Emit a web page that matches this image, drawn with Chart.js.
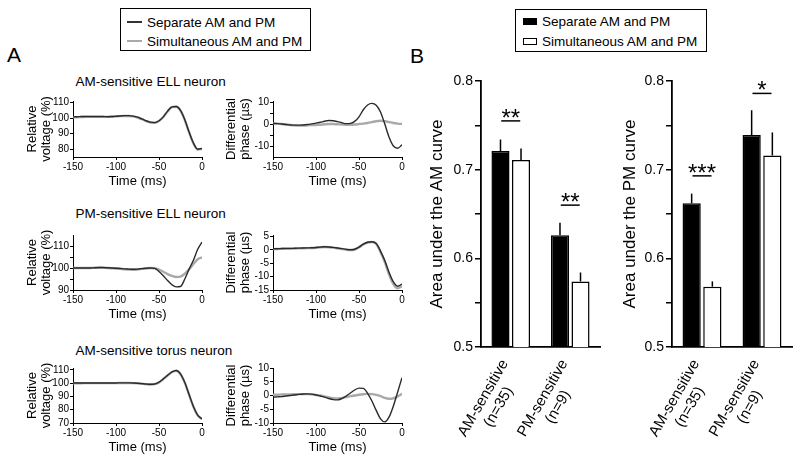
<!DOCTYPE html>
<html>
<head>
<meta charset="utf-8">
<script src="https://cdn.jsdelivr.net/npm/chart.js@4"></script>
<style>
  body { margin: 0; background: #fff; width: 800px; height: 462px; position: relative; overflow: hidden;
         font-family: "Liberation Sans", Arial, sans-serif; color: #000; }
  canvas { position: absolute; }
  .t { position: absolute; white-space: nowrap; line-height: 1; }
  .box { position: absolute; border: 1.5px solid #000; box-sizing: border-box; }
  .swatch { position: absolute; }
</style>
</head>
<body>

<div class="t" style="left:7px;top:44px;font-size:21px">A</div>
<div class="t" style="left:410px;top:45px;font-size:21px">B</div>

<div class="box" style="left:120px;top:8px;width:191px;height:43px"></div>
<div class="swatch" style="left:127px;top:21px;width:15px;height:2px;background:#333"></div>
<div class="swatch" style="left:127px;top:40px;width:15px;height:2px;background:#aaa"></div>
<div class="t" style="left:147px;top:15.5px;font-size:13.5px">Separate AM and PM</div>
<div class="t" style="left:147px;top:34.5px;font-size:13.5px">Simultaneous AM and PM</div>

<div class="box" style="left:515px;top:9px;width:192px;height:43px"></div>
<div class="swatch" style="left:523px;top:18px;width:14px;height:7px;background:#000"></div>
<div class="swatch" style="left:523px;top:38px;width:14px;height:7px;border:1.3px solid #000;box-sizing:border-box;background:#fff"></div>
<div class="t" style="left:542px;top:15px;font-size:13.5px">Separate AM and PM</div>
<div class="t" style="left:542px;top:34.5px;font-size:13.5px">Simultaneous AM and PM</div>

<div class="t" style="left:75.5px;top:74.5px;font-size:13.5px">AM-sensitive ELL neuron</div>
<div class="t" style="left:75.5px;top:207px;font-size:13.5px">PM-sensitive ELL neuron</div>
<div class="t" style="left:75.5px;top:343.5px;font-size:13.5px">AM-sensitive torus neuron</div>

<canvas id="c11" width="195" height="98" style="left:15px;top:93px"></canvas>
<canvas id="c12" width="195" height="98" style="left:215px;top:93px"></canvas>
<canvas id="c21" width="195" height="97" style="left:15px;top:227px"></canvas>
<canvas id="c22" width="195" height="97" style="left:215px;top:227px"></canvas>
<canvas id="c31" width="195" height="97" style="left:15px;top:360px"></canvas>
<canvas id="c32" width="195" height="97" style="left:215px;top:360px"></canvas>

<canvas id="b1" width="184" height="387" style="left:420px;top:60px"></canvas>
<canvas id="b2" width="183" height="387" style="left:613px;top:60px"></canvas>

<script>
// time axis of the traces (ms)
const times = [-150, -145, -140, -135, -130, -125, -120, -115, -110, -105, -100, -95, -90, -85, -80, -75,
               -70, -65, -60, -55, -50, -45, -40, -35, -30, -25, -20, -15, -10, -5, 0];
const timeTicks = [-150, -100, -50, 0];

// AM-sensitive ELL neuron
const amEllVoltSep = [100.8, 100.9, 101, 101, 101, 101, 101, 101, 100.9, 101, 101.2, 101.4, 101.6, 101.6, 101.3, 100.6,
                      99.5, 98.3, 97.4, 97.1, 98.3, 100.8, 104.5, 107.2, 107.5, 105, 99, 91, 84, 80, 80.5];
const amEllVoltSim = [100.5, 100.6, 100.7, 100.8, 100.8, 100.8, 100.8, 100.8, 100.8, 100.9, 101.1, 101.3, 101.4, 101.4, 101.1, 100.4,
                      99.3, 98.1, 97.2, 97, 98.2, 100.7, 104.3, 107, 107.3, 104.8, 98.8, 90.8, 83.8, 79.8, 80.3];
const amEllPhaseSep = [0.3, 0.2, 0, -0.2, -0.4, -0.5, -0.5, -0.4, -0.2, 0.1, 0.4, 0.8, 1.3, 1.6, 1.5, 1.1,
                       0.6, 0.2, 0.3, 1.2, 3.3, 6.5, 8.7, 9.4, 8.6, 5.5, 0, -6, -10, -11, -9.4];
const amEllPhaseSim = [0.3, 0.2, 0, -0.2, -0.4, -0.6, -0.7, -0.7, -0.6, -0.5, -0.4, -0.3, -0.1, 0, 0, -0.1,
                       -0.2, -0.3, -0.3, -0.2, 0, 0.2, 0.5, 0.9, 1.3, 1.5, 1.3, 0.9, 0.5, 0.2, 0];

// PM-sensitive ELL neuron
const pmEllVoltSep = [100, 100, 100, 100, 100, 100.1, 100.2, 100.2, 100.1, 100, 99.9, 99.8, 99.6, 99.5, 99.4, 99.5,
                      99.7, 99.9, 100, 99.8, 98.4, 96.5, 94.3, 92.4, 91.4, 91.6, 95, 99.5, 103.5, 108.5, 111.8];
const pmEllVoltSim = [100, 100, 100, 100, 100, 100.1, 100.1, 100.1, 100, 99.9, 99.8, 99.6, 99.4, 99.3, 99.2, 99.3,
                      99.6, 99.8, 100, 99.9, 99.3, 98.3, 97.2, 96.4, 95.9, 96.1, 97.4, 99.4, 101.8, 104, 104.8];
const pmEllPhaseSep = [0.4, 0.4, 0.45, 0.5, 0.5, 0.55, 0.6, 0.65, 0.7, 0.75, 0.85, 1, 1.1, 1.05, 0.9, 0.65,
                       0.4, 0.15, 0, 0.2, 1, 2.1, 2.8, 3, 2.3, -0.5, -4, -8.5, -12, -13.6, -12.8];
const pmEllPhaseSim = [0.3, 0.3, 0.35, 0.4, 0.4, 0.45, 0.5, 0.55, 0.6, 0.65, 0.75, 0.9, 1, 0.95, 0.8, 0.55,
                       0.3, 0.05, -0.1, 0.1, 0.9, 2, 2.7, 2.9, 2.2, -0.8, -4.6, -9.2, -12.8, -14.4, -13.6];

// AM-sensitive torus neuron
const amTorVoltSep = [100.2, 100.2, 100.2, 100.2, 100.2, 100.2, 100.2, 100.2, 100.2, 100.2, 100.2, 100.3, 100.3, 100.3, 100.2, 100,
                      99.7, 99.4, 99.2, 99.4, 100.8, 103.3, 106, 108.5, 109.6, 107, 100.5, 91.5, 82.5, 76, 73];
const amTorVoltSim = [100, 100, 100, 100.1, 100.1, 100.1, 100.1, 100.1, 100.1, 100.1, 100.1, 100.2, 100.2, 100.2, 100.1, 99.9,
                      99.6, 99.3, 99.1, 99.3, 100.6, 103.1, 105.8, 108.3, 109.4, 106.8, 100.3, 91.3, 82.3, 75.8, 73];
const amTorPhaseSep = [-0.6, -0.5, -0.4, -0.2, 0, 0.2, 0.4, 0.55, 0.6, 0.5, 0.2, -0.2, -0.6, -1.1, -1.5, -1.6,
                       -1.1, -0.2, 0.9, 2, 2.7, 2.6, 0.8, -2, -5.4, -8.5, -9.6, -7.8, -3.8, 1.3, 6.5];
const amTorPhaseSim = [0.3, 0.3, 0.35, 0.4, 0.4, 0.45, 0.5, 0.5, 0.5, 0.4, 0.2, 0, -0.3, -0.7, -1, -1.1,
                       -0.9, -0.6, -0.25, 0, 0.25, 0.45, 0.6, 0.5, 0.2, -0.25, -0.9, -1.2, -1, -0.3, 0.6];

// y ticks of the traces, and which of them carry a label
const amEllVoltTicks = [80, 90, 100, 110];
const amEllVoltShown = [80, 90, 100, 110];
const amEllPhaseTicks = [-10, -5, 0, 5, 10];
const amEllPhaseShown = [-10, 0, 10];
const pmEllVoltTicks = [90, 95, 100, 105, 110];
const pmEllVoltShown = [90, 100, 110];
const pmEllPhaseTicks = [-15, -10, -5, 0, 5];
const pmEllPhaseShown = [-15, -10, -5, 0, 5];
const amTorVoltTicks = [70, 80, 90, 100, 110];
const amTorVoltShown = [70, 80, 90, 100, 110];
const amTorPhaseTicks = [-10, -5, 0, 5, 10];
const amTorPhaseShown = [-10, -5, 0, 5, 10];

// panel B: area under the curve
const groups = [["AM-sensitive", "(n=35)"], ["PM-sensitive", "(n=9)"]];
const amAucSep = [0.721, 0.626];
const amAucSepErr = [0.013, 0.014];
const amAucSim = [0.711, 0.574];
const amAucSimErr = [0.013, 0.010];
const amStars = ["**", "**"];
const amStarLevel = [0.755, 0.660];
const pmAucSep = [0.662, 0.739];
const pmAucSepErr = [0.011, 0.028];
const pmAucSim = [0.568, 0.716];
const pmAucSimErr = [0.006, 0.026];
const pmStars = ["***", "*"];
const pmStarLevel = [0.693, 0.786];
const aucTicks = [0.5, 0.55, 0.6, 0.65, 0.7, 0.75, 0.8];
const aucShown = [0.5, 0.6, 0.7, 0.8];

const FONT = '"Liberation Sans", Arial, sans-serif';
Chart.defaults.font.family = FONT;
Chart.defaults.color = "#000";

function traceChart(id, sep, sim, yMin, yMax, yTicks, yShown, yTitle, titlePad) {
  return new Chart(document.getElementById(id), {
    type: "line",
    data: {
      datasets: [
        { label: "Separate AM and PM", data: times.map((t, i) => ({ x: t, y: sep[i] })),
          borderColor: "#2a2a2a", borderWidth: 1.4, pointRadius: 0, cubicInterpolationMode: "monotone" },
        { label: "Simultaneous AM and PM", data: times.map((t, i) => ({ x: t, y: sim[i] })),
          borderColor: "#a9a9a9", borderWidth: 2.4, pointRadius: 0, cubicInterpolationMode: "monotone" }
      ]
    },
    options: {
      responsive: false, animation: false, events: [],
      layout: { padding: { top: 8, right: 8, left: 0, bottom: 0 } },
      plugins: { legend: { display: false }, tooltip: { enabled: false } },
      scales: {
        x: {
          type: "linear", min: -150, max: 0,
          afterBuildTicks: s => { s.ticks = timeTicks.map(v => ({ value: v })); },
          afterFit: s => { s.height = 34; },
          grid: { drawOnChartArea: false, tickLength: 3, color: "#000" },
          border: { color: "#000", width: 1 },
          ticks: { font: { size: 10 }, padding: 1, maxRotation: 0, autoSkip: false, callback: v => String(v) },
          title: { display: true, text: "Time (ms)", font: { size: 13 }, padding: { top: 0, bottom: 2 } }
        },
        y: {
          min: yMin, max: yMax,
          afterBuildTicks: s => { s.ticks = yTicks.map(v => ({ value: v })); },
          afterFit: s => { s.width = 58; },
          grid: { drawOnChartArea: false, tickLength: 3, color: "#000" },
          border: { color: "#000", width: 1 },
          ticks: { font: { size: 10 }, padding: 1, autoSkip: false, callback: v => yShown.includes(v) ? String(v) : "" },
          title: { display: true, text: yTitle, font: { size: 13, lineHeight: 1.1 }, padding: { top: titlePad, bottom: 0 } }
        }
      }
    }
  });
}

const voltTitle = ["Relative", "voltage (%)"];
const phaseTitle = ["Differential", "phase (\u00b5s)"];
traceChart("c11", amEllVoltSep, amEllVoltSim, 75, 111, amEllVoltTicks, amEllVoltShown, voltTitle, 10);
traceChart("c12", amEllPhaseSep, amEllPhaseSim, -15, 10.5, amEllPhaseTicks, amEllPhaseShown, phaseTitle, 9);
traceChart("c21", pmEllVoltSep, pmEllVoltSim, 90, 115, pmEllVoltTicks, pmEllVoltShown, voltTitle, 10);
traceChart("c22", pmEllPhaseSep, pmEllPhaseSim, -15, 5.5, pmEllPhaseTicks, pmEllPhaseShown, phaseTitle, 9);
traceChart("c31", amTorVoltSep, amTorVoltSim, 70, 111.5, amTorVoltTicks, amTorVoltShown, voltTitle, 10);
traceChart("c32", amTorPhaseSep, amTorPhaseSim, -10, 10, amTorPhaseTicks, amTorPhaseShown, phaseTitle, 9);

// error bars, significance marks and slanted group names
const barExtras = {
  id: "barExtras",
  afterDatasetsDraw(chart, args, opts) {
    const ctx = chart.ctx, xs = chart.scales.x, ys = chart.scales.y;
    ctx.save();
    ctx.strokeStyle = "#000";
    ctx.fillStyle = "#000";
    ctx.lineWidth = 1.5;
    chart.data.datasets.forEach((ds, i) => {
      chart.getDatasetMeta(i).data.forEach((bar, j) => {
        const top = ys.getPixelForValue(ds.data[j] + opts.errors[i][j]);
        ctx.beginPath();
        ctx.moveTo(bar.x, bar.y);
        ctx.lineTo(bar.x, top);
        ctx.stroke();
      });
    });
    opts.levels.forEach((lv, j) => {
      const xc = xs.getPixelForValue(j), yl = ys.getPixelForValue(lv);
      ctx.beginPath();
      ctx.moveTo(xc - 9.5, yl);
      ctx.lineTo(xc + 9.5, yl);
      ctx.stroke();
      ctx.font = "24px " + FONT;
      ctx.textAlign = "center";
      ctx.textBaseline = "alphabetic";
      ctx.fillText(opts.stars[j], xc, yl + 5);
    });
    ctx.font = "15px " + FONT;
    ctx.textAlign = "center";
    ctx.textBaseline = "middle";
    chart.data.labels.forEach((lab, j) => {
      ctx.save();
      ctx.translate(xs.getPixelForValue(j), chart.chartArea.bottom);
      ctx.rotate(-Math.PI / 3);
      lab.forEach((line, k) => ctx.fillText(line, -58, 2 + k * 17.5));
      ctx.restore();
    });
    ctx.restore();
  }
};

function aucChart(id, sep, sepErr, sim, simErr, stars, levels, yTitle, axisWidth) {
  return new Chart(document.getElementById(id), {
    type: "bar",
    data: {
      labels: groups,
      datasets: [
        { label: "Separate AM and PM", data: sep, backgroundColor: "#000", borderColor: "#000", borderWidth: 1.5 },
        { label: "Simultaneous AM and PM", data: sim, backgroundColor: "#fff", borderColor: "#000", borderWidth: 1.5 }
      ]
    },
    options: {
      responsive: false, animation: false, events: [],
      categoryPercentage: 0.69, barPercentage: 0.88,
      layout: { padding: { top: 21, right: 4, left: 0, bottom: 0 } },
      plugins: {
        legend: { display: false }, tooltip: { enabled: false },
        barExtras: { errors: [sepErr, simErr], stars: stars, levels: levels }
      },
      scales: {
        x: {
          afterFit: s => { s.height = 100; },
          grid: { drawOnChartArea: false, drawTicks: false },
          border: { color: "#000", width: 1.8 },
          ticks: { display: false }
        },
        y: {
          min: 0.5, max: 0.8,
          afterBuildTicks: s => { s.ticks = aucTicks.map(v => ({ value: v })); },
          afterFit: s => { s.width = axisWidth; },
          grid: { drawOnChartArea: false, tickLength: 6, color: "#000", lineWidth: 1.5 },
          border: { color: "#000", width: 1.8 },
          ticks: { font: { size: 14 }, padding: 2, autoSkip: false, callback: v => aucShown.includes(v) ? v.toFixed(1) : "" },
          title: { display: true, text: yTitle, font: { size: 17 }, padding: { top: 7, bottom: 0 } }
        }
      }
    },
    plugins: [barExtras]
  });
}

aucChart("b1", amAucSep, amAucSepErr, amAucSim, amAucSimErr, amStars, amStarLevel, "Area under the AM curve", 61);
aucChart("b2", pmAucSep, pmAucSepErr, pmAucSim, pmAucSimErr, pmStars, pmStarLevel, "Area under the PM curve", 59);
</script>
</body>
</html>
